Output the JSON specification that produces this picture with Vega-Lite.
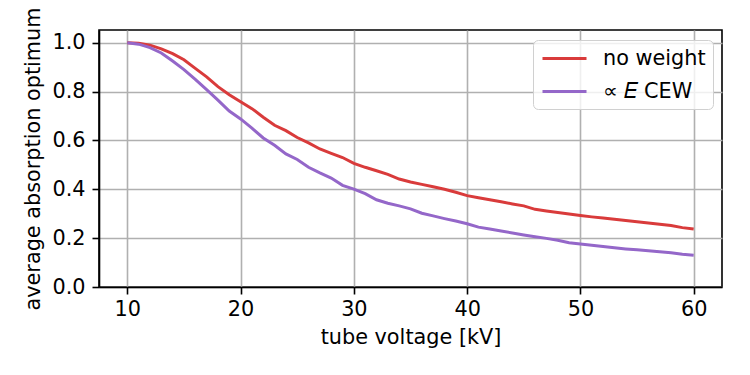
{
  "$schema": "https://vega.github.io/schema/vega-lite/v6.json",
  "autosize": {"type": "none"},
  "padding": {"left": 99, "top": 30, "right": 28, "bottom": 88},
  "width": 623,
  "height": 257,
  "background": "white",
  "config": {
    "font": "DejaVu Sans",
    "view": {"stroke": "black", "strokeWidth": 1.6},
    "axis": {
      "domainColor": "black",
      "domainWidth": 1.6,
      "tickColor": "black",
      "tickSize": 7,
      "tickWidth": 1.6,
      "labelFont": "DejaVu Sans",
      "labelFontSize": 20.8,
      "labelColor": "black",
      "titleFont": "DejaVu Sans",
      "titleFontSize": 20.8,
      "titleFontWeight": "normal",
      "titleColor": "black",
      "gridColor": "#b0b0b0",
      "gridWidth": 1.6,
      "gridOpacity": 1
    }
  },
  "data": {
    "values": [
      {"kV": 10, "value": 1.0, "series": "no weight"},
      {"kV": 11, "value": 0.998, "series": "no weight"},
      {"kV": 12, "value": 0.99, "series": "no weight"},
      {"kV": 13, "value": 0.975, "series": "no weight"},
      {"kV": 14, "value": 0.955, "series": "no weight"},
      {"kV": 15, "value": 0.93, "series": "no weight"},
      {"kV": 16, "value": 0.895, "series": "no weight"},
      {"kV": 17, "value": 0.86, "series": "no weight"},
      {"kV": 18, "value": 0.82, "series": "no weight"},
      {"kV": 19, "value": 0.787, "series": "no weight"},
      {"kV": 20, "value": 0.758, "series": "no weight"},
      {"kV": 21, "value": 0.73, "series": "no weight"},
      {"kV": 22, "value": 0.695, "series": "no weight"},
      {"kV": 23, "value": 0.662, "series": "no weight"},
      {"kV": 24, "value": 0.64, "series": "no weight"},
      {"kV": 25, "value": 0.612, "series": "no weight"},
      {"kV": 26, "value": 0.59, "series": "no weight"},
      {"kV": 27, "value": 0.565, "series": "no weight"},
      {"kV": 28, "value": 0.547, "series": "no weight"},
      {"kV": 29, "value": 0.53, "series": "no weight"},
      {"kV": 30, "value": 0.506, "series": "no weight"},
      {"kV": 31, "value": 0.49, "series": "no weight"},
      {"kV": 32, "value": 0.476, "series": "no weight"},
      {"kV": 33, "value": 0.461, "series": "no weight"},
      {"kV": 34, "value": 0.442, "series": "no weight"},
      {"kV": 35, "value": 0.43, "series": "no weight"},
      {"kV": 36, "value": 0.42, "series": "no weight"},
      {"kV": 37, "value": 0.41, "series": "no weight"},
      {"kV": 38, "value": 0.4, "series": "no weight"},
      {"kV": 39, "value": 0.388, "series": "no weight"},
      {"kV": 40, "value": 0.374, "series": "no weight"},
      {"kV": 41, "value": 0.365, "series": "no weight"},
      {"kV": 42, "value": 0.357, "series": "no weight"},
      {"kV": 43, "value": 0.349, "series": "no weight"},
      {"kV": 44, "value": 0.34, "series": "no weight"},
      {"kV": 45, "value": 0.332, "series": "no weight"},
      {"kV": 46, "value": 0.318, "series": "no weight"},
      {"kV": 47, "value": 0.311, "series": "no weight"},
      {"kV": 48, "value": 0.305, "series": "no weight"},
      {"kV": 49, "value": 0.299, "series": "no weight"},
      {"kV": 50, "value": 0.293, "series": "no weight"},
      {"kV": 51, "value": 0.287, "series": "no weight"},
      {"kV": 52, "value": 0.282, "series": "no weight"},
      {"kV": 53, "value": 0.277, "series": "no weight"},
      {"kV": 54, "value": 0.272, "series": "no weight"},
      {"kV": 55, "value": 0.267, "series": "no weight"},
      {"kV": 56, "value": 0.262, "series": "no weight"},
      {"kV": 57, "value": 0.257, "series": "no weight"},
      {"kV": 58, "value": 0.252, "series": "no weight"},
      {"kV": 59, "value": 0.243, "series": "no weight"},
      {"kV": 60, "value": 0.237, "series": "no weight"},
      {"kV": 10, "value": 1.0, "series": "∝ 𝐸 CEW"},
      {"kV": 11, "value": 0.994, "series": "∝ 𝐸 CEW"},
      {"kV": 12, "value": 0.98, "series": "∝ 𝐸 CEW"},
      {"kV": 13, "value": 0.958, "series": "∝ 𝐸 CEW"},
      {"kV": 14, "value": 0.925, "series": "∝ 𝐸 CEW"},
      {"kV": 15, "value": 0.89, "series": "∝ 𝐸 CEW"},
      {"kV": 16, "value": 0.85, "series": "∝ 𝐸 CEW"},
      {"kV": 17, "value": 0.808, "series": "∝ 𝐸 CEW"},
      {"kV": 18, "value": 0.765, "series": "∝ 𝐸 CEW"},
      {"kV": 19, "value": 0.72, "series": "∝ 𝐸 CEW"},
      {"kV": 20, "value": 0.688, "series": "∝ 𝐸 CEW"},
      {"kV": 21, "value": 0.65, "series": "∝ 𝐸 CEW"},
      {"kV": 22, "value": 0.61, "series": "∝ 𝐸 CEW"},
      {"kV": 23, "value": 0.58, "series": "∝ 𝐸 CEW"},
      {"kV": 24, "value": 0.545, "series": "∝ 𝐸 CEW"},
      {"kV": 25, "value": 0.522, "series": "∝ 𝐸 CEW"},
      {"kV": 26, "value": 0.49, "series": "∝ 𝐸 CEW"},
      {"kV": 27, "value": 0.467, "series": "∝ 𝐸 CEW"},
      {"kV": 28, "value": 0.446, "series": "∝ 𝐸 CEW"},
      {"kV": 29, "value": 0.416, "series": "∝ 𝐸 CEW"},
      {"kV": 30, "value": 0.401, "series": "∝ 𝐸 CEW"},
      {"kV": 31, "value": 0.382, "series": "∝ 𝐸 CEW"},
      {"kV": 32, "value": 0.357, "series": "∝ 𝐸 CEW"},
      {"kV": 33, "value": 0.343, "series": "∝ 𝐸 CEW"},
      {"kV": 34, "value": 0.332, "series": "∝ 𝐸 CEW"},
      {"kV": 35, "value": 0.32, "series": "∝ 𝐸 CEW"},
      {"kV": 36, "value": 0.302, "series": "∝ 𝐸 CEW"},
      {"kV": 37, "value": 0.291, "series": "∝ 𝐸 CEW"},
      {"kV": 38, "value": 0.28, "series": "∝ 𝐸 CEW"},
      {"kV": 39, "value": 0.27, "series": "∝ 𝐸 CEW"},
      {"kV": 40, "value": 0.259, "series": "∝ 𝐸 CEW"},
      {"kV": 41, "value": 0.245, "series": "∝ 𝐸 CEW"},
      {"kV": 42, "value": 0.237, "series": "∝ 𝐸 CEW"},
      {"kV": 43, "value": 0.229, "series": "∝ 𝐸 CEW"},
      {"kV": 44, "value": 0.221, "series": "∝ 𝐸 CEW"},
      {"kV": 45, "value": 0.213, "series": "∝ 𝐸 CEW"},
      {"kV": 46, "value": 0.206, "series": "∝ 𝐸 CEW"},
      {"kV": 47, "value": 0.199, "series": "∝ 𝐸 CEW"},
      {"kV": 48, "value": 0.191, "series": "∝ 𝐸 CEW"},
      {"kV": 49, "value": 0.181, "series": "∝ 𝐸 CEW"},
      {"kV": 50, "value": 0.176, "series": "∝ 𝐸 CEW"},
      {"kV": 51, "value": 0.171, "series": "∝ 𝐸 CEW"},
      {"kV": 52, "value": 0.166, "series": "∝ 𝐸 CEW"},
      {"kV": 53, "value": 0.161, "series": "∝ 𝐸 CEW"},
      {"kV": 54, "value": 0.156, "series": "∝ 𝐸 CEW"},
      {"kV": 55, "value": 0.152, "series": "∝ 𝐸 CEW"},
      {"kV": 56, "value": 0.148, "series": "∝ 𝐸 CEW"},
      {"kV": 57, "value": 0.144, "series": "∝ 𝐸 CEW"},
      {"kV": 58, "value": 0.14, "series": "∝ 𝐸 CEW"},
      {"kV": 59, "value": 0.134, "series": "∝ 𝐸 CEW"},
      {"kV": 60, "value": 0.13, "series": "∝ 𝐸 CEW"}
    ]
  },
  "mark": {"type": "line", "strokeWidth": 3, "clip": true},
  "encoding": {
    "x": {
      "field": "kV",
      "type": "quantitative",
      "scale": {"domain": [7.5, 62.5], "nice": false, "zero": false},
      "axis": {"title": "tube voltage [kV]", "values": [10, 20, 30, 40, 50, 60], "labelPadding": 5, "titlePadding": 9}
    },
    "y": {
      "field": "value",
      "type": "quantitative",
      "scale": {"domain": [0, 1.052], "nice": false},
      "axis": {"title": "average absorption optimum", "values": [0, 0.2, 0.4, 0.6, 0.8, 1.0], "format": ".1f", "labelPadding": 7, "titlePadding": 8}
    },
    "color": {
      "field": "series",
      "type": "nominal",
      "scale": {"domain": ["no weight", "∝ 𝐸 CEW"], "range": ["#d93b3b", "#9467c9"]},
      "legend": {
        "title": null,
        "orient": "none",
        "legendX": 434,
        "legendY": 10,
        "symbolType": "M-2.2,0h4.4",
        "symbolSize": 400,
        "symbolStrokeWidth": 3,
        "symbolOffset": 13,
        "labelFontSize": 20.8,
        "labelFont": "DejaVu Sans",
        "labelColor": "black",
        "labelOffset": 27,
        "rowPadding": 11,
        "padding": 7,
        "strokeColor": "#d0d0d0",
        "cornerRadius": 5,
        "fillColor": "rgba(255,255,255,0.8)"
      }
    }
  }
}
